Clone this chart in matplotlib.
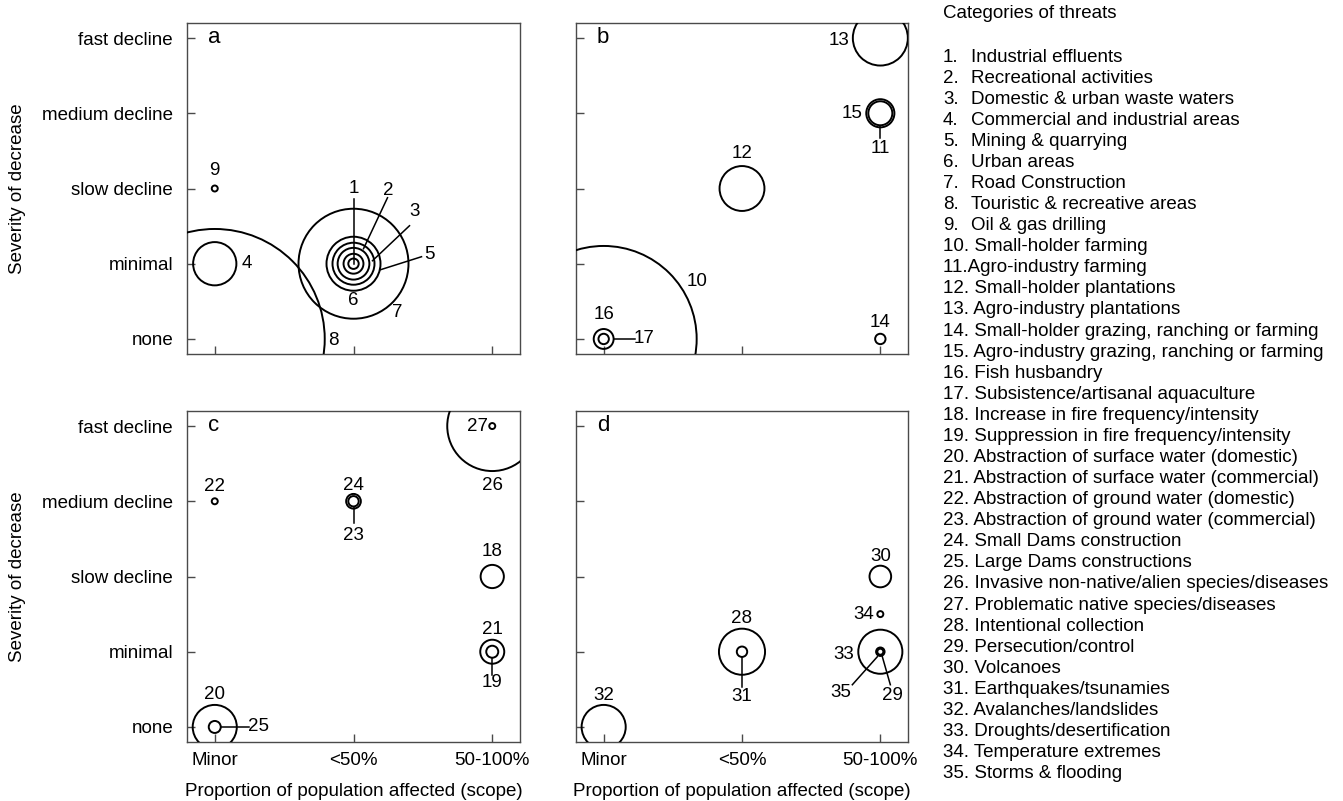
import matplotlib
matplotlib.use("Agg")
import matplotlib.pyplot as plt
from matplotlib.lines import Line2D
from matplotlib.transforms import IdentityTransform
import numpy as np

plt.rcParams['font.family'] = ['Liberation Sans', 'DejaVu Sans']

# ---------------- data ----------------
scope_labels = ["Minor", "<50%", "50-100%"]
severity_labels = ["none", "minimal", "slow decline", "medium decline", "fast decline"]

threat_ids = list(range(1, 36))
panel = ["a"] * 9 + ["b"] * 8 + ["c"] * 10 + ["d"] * 8
# scope index (0 Minor, 1 <50%, 2 50-100%)
scope = [1, 1, 1, 0, 1, 1, 1, 0, 0,
         0, 2, 1, 2, 2, 2, 0, 0,
         2, 2, 0, 2, 0, 1, 1, 0, 2, 2,
         1, 2, 2, 1, 0, 2, 2, 2]
# severity index (0 none ... 4 fast decline)
severity = [1, 1, 1, 1, 1, 1, 1, 0, 2,
            0, 3, 2, 4, 0, 3, 0, 0,
            2, 1, 0, 1, 3, 3, 3, 0, 4, 4,
            1, 1, 2, 1, 0, 1, 1.5, 1]
# relative bubble weight (area proportional)
weight = [3, 11, 28, 52, 81, 49, 336, 1344, 1,
          961, 16, 56, 84, 3, 22, 11, 3,
          15, 4, 54, 16, 1, 3, 6, 4, 225, 1,
          59, 2, 13, 3, 54, 54, 1, 1]

threat_names = [
    "Industrial effluents", "Recreational activities", "Domestic & urban waste waters",
    "Commercial and industrial areas", "Mining & quarrying", "Urban areas",
    "Road Construction", "Touristic & recreative areas", "Oil & gas drilling",
    "Small-holder farming", "Agro-industry farming", "Small-holder plantations",
    "Agro-industry plantations", "Small-holder grazing, ranching or farming",
    "Agro-industry grazing, ranching or farming", "Fish husbandry",
    "Subsistence/artisanal aquaculture", "Increase in fire frequency/intensity",
    "Suppression in fire frequency/intensity", "Abstraction of surface water (domestic)",
    "Abstraction of surface water (commercial)", "Abstraction of ground water (domestic)",
    "Abstraction of ground water (commercial)", "Small Dams construction",
    "Large Dams constructions", "Invasive non-native/alien species/diseases",
    "Problematic native species/diseases", "Intentional collection",
    "Persecution/control", "Volcanoes", "Earthquakes/tsunamies",
    "Avalanches/landslides", "Droughts/desertification", "Temperature extremes",
    "Storms & flooding",
]

# ---------------- layout (pixel offsets of number labels / leader lines) ----------------
label_off = {
    1: (0, 75), 2: (35, 73), 3: (61, 52), 4: (32, 0), 5: (76, 9), 6: (0, -37),
    7: (44, -49), 8: (119, -2), 9: (0, 18),
    10: (93, 57), 11: (0, -35), 12: (0, 35), 13: (-41, -2), 14: (0, 16),
    15: (-28, 0), 16: (0, 24), 17: (40, 0),
    18: (0, 25), 19: (0, -31), 20: (0, 32), 21: (0, 22), 22: (0, 15),
    23: (0, -34), 24: (0, 16), 25: (44, 0), 26: (0, -59), 27: (-15, 0),
    28: (0, 33), 29: (12, -44), 30: (0, 20), 31: (0, -45), 32: (0, 31),
    33: (-37, -3), 34: (-17, 0), 35: (-40, -41),
}
leaders = {
    1: ((0, 65), (0, 0)), 2: ((34, 66), (10, 15)), 3: ((56, 38), (19, 3)),
    5: ((68, 7), (27, -6)), 11: ((0, -13), (0, -25)), 17: ((10, 0), (31, 0)),
    23: ((0, -6), (0, -22)), 19: ((0, -6), (0, -23)), 25: ((6, 0), (34, 0)),
    31: ((0, -5), (0, -35)), 35: ((-28, -33), (-3, -5)), 29: ((10, -33), (2, -5)),
}

W, H = 1343, 801
DPI = 100
fig = plt.figure(figsize=(W / DPI, H / DPI), dpi=DPI)

boxes = {"a": (187, 23, 520, 354), "b": (576, 23, 908, 354),
         "c": (187, 411, 520, 742), "d": (576, 411, 908, 742)}

spine_col = "#4a4a4a"
FS = 13.5
axes = {}
for key, (l, t, r, b) in boxes.items():
    ax = fig.add_axes([l / W, (H - b) / H, (r - l) / W, (b - t) / H])
    ax.set_xlim(-0.2, 2.2)
    ax.set_ylim(-0.2, 4.2)
    ax.set_xticks(range(3))
    ax.set_yticks(range(5))
    ax.tick_params(direction="in", length=6, width=1, color=spine_col,
                   labelsize=FS, pad=10)
    ax.tick_params(axis="x", pad=7)
    for s in ax.spines.values():
        s.set_color(spine_col)
        s.set_linewidth(1.0)
    if key in ("a", "c"):
        ax.set_yticklabels(severity_labels)
    else:
        ax.set_yticklabels([])
    if key in ("c", "d"):
        ax.set_xticklabels(scope_labels)
    else:
        ax.set_xticklabels([])
    axes[key] = ax

px_per_pt = DPI / 72.0
for key, ax in axes.items():
    idx = [i for i in range(len(threat_ids)) if panel[i] == key]
    xs = np.array([scope[i] for i in idx], dtype=float)
    ys = np.array([severity[i] for i in idx], dtype=float)
    w = np.array([weight[i] for i in idx], dtype=float)
    r_px = 3.0 * np.sqrt(w)
    r_pt = r_px / px_per_pt
    sizes = (2 * r_pt) ** 2
    ax.scatter(xs, ys, s=sizes, facecolors="none", edgecolors="black",
               linewidths=1.4, zorder=3)
    for i in idx:
        tid = threat_ids[i]
        dx, dy = label_off[tid]
        ax.annotate(str(tid), xy=(scope[i], severity[i]), xytext=(dx, dy),
                    textcoords="offset pixels", ha="center", va="center",
                    fontsize=13.5, zorder=5, annotation_clip=False)
        if tid in leaders:
            (x1, y1), (x2, y2) = leaders[tid]
            cx, cy = ax.transData.transform((scope[i], severity[i]))
            ln = Line2D([cx + x1, cx + x2], [cy + y1, cy + y2],
                        transform=IdentityTransform(), color="black", lw=1.1)
            fig.add_artist(ln)
    ax.annotate(key, xy=(0, 4), xytext=(-7, 1), textcoords="offset pixels",
                ha="left", va="center", fontsize=16)

# axis titles
for key in ("a", "c"):
    l, t, r, b = boxes[key]
    fig.text(18 / W, 1 - ((t + b) / 2) / H, "Severity of decrease", rotation=90,
             ha="center", va="center", fontsize=FS)
for key in ("c", "d"):
    l, t, r, b = boxes[key]
    fig.text(((l + r) / 2) / W, 1 - 791 / H, "Proportion of population affected (scope)",
             ha="center", va="center", fontsize=FS)

# legend list
fig.text(943 / W, 1 - 14 / H, "Categories of threats", ha="left", va="center", fontsize=FS)
for k, name in enumerate(threat_names):
    n = k + 1
    y = 1 - (57 + 21.08 * k) / H
    if n < 10:
        fig.text(943 / W, y, f"{n}.", ha="left", va="center", fontsize=FS)
        fig.text(971 / W, y, name, ha="left", va="center", fontsize=FS)
    elif n == 11:
        fig.text(943 / W, y, f"{n}.{name}", ha="left", va="center", fontsize=FS)
    else:
        fig.text(943 / W, y, f"{n}. {name}", ha="left", va="center", fontsize=FS)

fig.savefig("out.png", dpi=DPI)
